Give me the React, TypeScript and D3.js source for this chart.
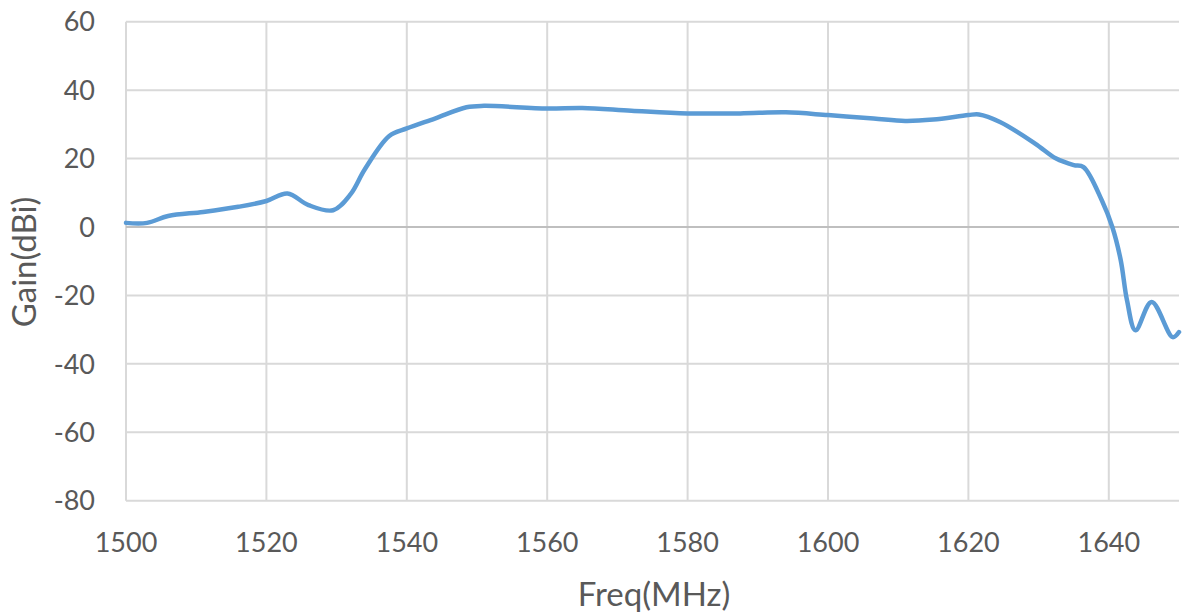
import React, { useEffect, useRef } from 'react';
import * as d3 from 'd3';

// gain curve
const freq = [
  1500, 1503, 1506, 1511, 1516, 1520, 1523, 1526, 1529.5, 1532, 1534,
  1537.5, 1540, 1544, 1548.5, 1551, 1560, 1565, 1572, 1580, 1587.5, 1594,
  1600, 1606.5, 1611, 1615, 1620, 1621.5, 1624.5, 1629.5, 1632.5, 1635,
  1636.4, 1639, 1640.5, 1641.7, 1642.6, 1643.8, 1646.1, 1649.1, 1650,
];
const gain = [
  1.2, 1.2, 3.2, 4.4, 5.9, 7.6, 9.8, 6.4, 4.9, 9.6, 16.8,
  26.6, 28.8, 31.7, 35, 35.4, 34.6, 34.8, 34, 33.2, 33.2, 33.5,
  32.7, 31.7, 31.0, 31.4, 32.7, 32.9, 30.7, 24.4, 20, 18.1,
  17.5, 7.8, 0, -9.7, -21.5, -30.2, -21.9, -32.2, -30.7,
];
const xTicks = [1500, 1520, 1540, 1560, 1580, 1600, 1620, 1640];
const yTicks = [60, 40, 20, 0, -20, -40, -60, -80];

const W = 1185;
const H = 615;
const left = 126;
const right = 1179;
const top = 21.7;
const bottom = 500.7;

const font = 'Lato, "Open Sans", sans-serif';
const textColor = '#595959';

export default function App() {
  const svgRef = useRef<SVGSVGElement>(null);

  useEffect(() => {
    const svg = d3.select(svgRef.current);
    svg.selectAll('*').remove();

    const x = d3.scaleLinear().domain([1500, 1650]).range([left, right]);
    const y = d3.scaleLinear().domain([-80, 60]).range([bottom, top]);

    // grid
    svg.append('g')
      .selectAll('line')
      .data(xTicks)
      .enter()
      .append('line')
      .attr('x1', d => x(d))
      .attr('x2', d => x(d))
      .attr('y1', top)
      .attr('y2', bottom)
      .attr('stroke', '#d9d9d9')
      .attr('stroke-width', 2);

    svg.append('g')
      .selectAll('line')
      .data(yTicks)
      .enter()
      .append('line')
      .attr('x1', left)
      .attr('x2', right)
      .attr('y1', d => y(d))
      .attr('y2', d => y(d))
      .attr('stroke', d => (d === 0 ? '#bfbfbf' : '#d9d9d9'))
      .attr('stroke-width', 2);

    // tick labels
    svg.append('g')
      .selectAll('text')
      .data(yTicks)
      .enter()
      .append('text')
      .attr('x', 95)
      .attr('y', d => y(d))
      .attr('dy', '0.36em')
      .attr('text-anchor', 'end')
      .attr('font-size', 27)
      .attr('font-family', font)
      .attr('fill', textColor)
      .text(d => d);

    svg.append('g')
      .selectAll('text')
      .data(xTicks)
      .enter()
      .append('text')
      .attr('x', d => x(d))
      .attr('y', 552)
      .attr('text-anchor', 'middle')
      .attr('font-size', 27)
      .attr('font-family', font)
      .attr('fill', textColor)
      .text(d => d);

    // axis titles
    svg.append('text')
      .attr('x', 654)
      .attr('y', 606)
      .attr('text-anchor', 'middle')
      .attr('font-size', 33)
      .attr('font-family', font)
      .attr('fill', textColor)
      .text('Freq(MHz)');

    svg.append('text')
      .attr('transform', 'translate(36,262) rotate(-90)')
      .attr('text-anchor', 'middle')
      .attr('font-size', 33)
      .attr('font-family', font)
      .attr('fill', textColor)
      .text('Gain(dBi)');

    // curve
    const pts: [number, number][] = freq.map((f, i) => [f, gain[i]]);
    const line = d3.line<[number, number]>()
      .x(d => x(d[0]))
      .y(d => y(d[1]))
      .curve(d3.curveCatmullRom.alpha(0.5));

    svg.append('path')
      .datum(pts)
      .attr('d', line)
      .attr('fill', 'none')
      .attr('stroke', '#5b9bd5')
      .attr('stroke-width', 4.5)
      .attr('stroke-linejoin', 'round')
      .attr('stroke-linecap', 'round');
  }, []);

  return (
    <div style={{ position: 'absolute', left: 0, top: 0, background: '#fff' }}>
      <svg ref={svgRef} width={W} height={H} style={{ display: 'block' }}></svg>
    </div>
  );
}
